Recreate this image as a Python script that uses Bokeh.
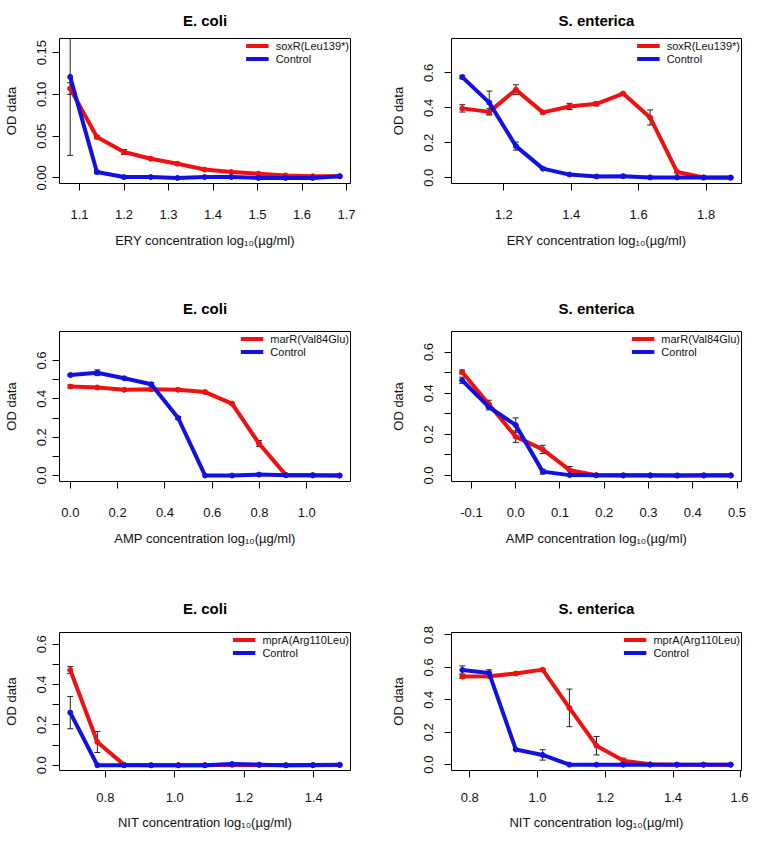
from bokeh.plotting import figure
from bokeh.layouts import column, row
from bokeh.models import FixedTicker, PrintfTickFormatter, Range1d
from bokeh.embed import file_html
from bokeh.resources import INLINE

# ---------------- data ----------------
titles = ["E. coli", "S. enterica", "E. coli", "S. enterica", "E. coli", "S. enterica"]
drugs = ["ERY", "ERY", "AMP", "AMP", "NIT", "NIT"]
mutant_labels = ["soxR(Leu139*)", "soxR(Leu139*)", "marR(Val84Glu)", "marR(Val84Glu)",
                 "mprA(Arg110Leu)", "mprA(Arg110Leu)"]

x1 = [1.079, 1.139, 1.200, 1.260, 1.320, 1.381, 1.441, 1.502, 1.563, 1.624, 1.685]
mut1 = [0.107, 0.049, 0.031, 0.023, 0.017, 0.010, 0.007, 0.005, 0.003, 0.002, 0.002]
mut1_err = [0.007, 0.002, 0.003, 0.001, 0.001, 0.001, 0.001, 0.0, 0.0, 0.0, 0.0]
ctrl1 = [0.121, 0.007, 0.001, 0.001, 0.000, 0.001, 0.001, 0.000, 0.000, 0.000, 0.002]
ctrl1_err = [0.094, 0.002, 0.0, 0.0, 0.0, 0.0, 0.0, 0.0, 0.0, 0.0, 0.0]

x2 = [1.077, 1.157, 1.236, 1.316, 1.395, 1.475, 1.554, 1.634, 1.714, 1.793, 1.873]
mut2 = [0.397, 0.377, 0.504, 0.374, 0.408, 0.423, 0.482, 0.345, 0.033, 0.002, 0.000]
mut2_err = [0.021, 0.018, 0.028, 0.008, 0.018, 0.012, 0.006, 0.043, 0.0, 0.0, 0.0]
ctrl2 = [0.576, 0.430, 0.181, 0.052, 0.018, 0.007, 0.009, 0.002, 0.002, 0.001, 0.001]
ctrl2_err = [0.010, 0.066, 0.023, 0.005, 0.003, 0.0, 0.0, 0.0, 0.0, 0.0, 0.0]

x3 = [0.000, 0.114, 0.228, 0.342, 0.456, 0.570, 0.684, 0.798, 0.912, 1.025, 1.139]
mut3 = [0.464, 0.459, 0.447, 0.450, 0.447, 0.435, 0.375, 0.167, 0.002, 0.001, 0.000]
mut3_err = [0.008, 0.004, 0.004, 0.003, 0.003, 0.004, 0.006, 0.016, 0.0, 0.0, 0.0]
ctrl3 = [0.524, 0.536, 0.507, 0.476, 0.300, 0.000, 0.000, 0.005, 0.002, 0.002, 0.000]
ctrl3_err = [0.005, 0.015, 0.006, 0.008, 0.008, 0.0, 0.0, 0.0, 0.0, 0.0, 0.0]

x4 = [-0.121, -0.061, 0.000, 0.061, 0.122, 0.182, 0.243, 0.304, 0.365, 0.425, 0.486]
mut4 = [0.503, 0.348, 0.189, 0.127, 0.026, 0.001, 0.000, 0.000, 0.000, 0.000, 0.000]
mut4_err = [0.010, 0.018, 0.028, 0.020, 0.018, 0.0, 0.0, 0.0, 0.0, 0.0, 0.0]
ctrl4 = [0.463, 0.334, 0.245, 0.019, 0.002, 0.001, 0.001, 0.001, 0.000, 0.001, 0.001]
ctrl4_err = [0.015, 0.015, 0.035, 0.012, 0.0, 0.0, 0.0, 0.0, 0.0, 0.0, 0.0]

x5 = [0.699, 0.777, 0.854, 0.932, 1.010, 1.087, 1.165, 1.243, 1.320, 1.398, 1.475]
mut5 = [0.472, 0.115, 0.002, 0.000, 0.000, 0.000, 0.002, 0.001, 0.000, 0.000, 0.001]
mut5_err = [0.017, 0.052, 0.0, 0.0, 0.0, 0.0, 0.0, 0.0, 0.0, 0.0, 0.0]
ctrl5 = [0.261, 0.000, 0.000, 0.000, 0.000, 0.000, 0.006, 0.003, 0.000, 0.001, 0.002]
ctrl5_err = [0.080, 0.0, 0.0, 0.0, 0.0, 0.0, 0.0, 0.0, 0.0, 0.0, 0.0]

x6 = [0.778, 0.857, 0.936, 1.015, 1.094, 1.174, 1.253, 1.332, 1.411, 1.490, 1.570]
mut6 = [0.543, 0.545, 0.562, 0.586, 0.350, 0.117, 0.025, 0.002, 0.000, 0.000, 0.000]
mut6_err = [0.012, 0.006, 0.005, 0.005, 0.116, 0.057, 0.015, 0.0, 0.0, 0.0, 0.0]
ctrl6 = [0.584, 0.565, 0.093, 0.060, 0.000, 0.000, 0.000, 0.000, 0.000, 0.000, 0.000]
ctrl6_err = [0.025, 0.020, 0.005, 0.032, 0.0, 0.0, 0.0, 0.0, 0.0, 0.0, 0.0]

# axis ticks (labelled / unlabelled)
xticks1 = [1.1, 1.2, 1.3, 1.4, 1.5, 1.6, 1.7]
yticks1 = [0.0, 0.05, 0.10, 0.15]
xticks2 = [1.2, 1.4, 1.6, 1.8]
yticks2 = [0.0, 0.2, 0.4, 0.6]
xticks3 = [0.0, 0.2, 0.4, 0.6, 0.8, 1.0]
yticks3 = [0.0, 0.2, 0.4, 0.6]
yminor3 = [0.1, 0.3, 0.5]
xticks4 = [-0.1, 0.0, 0.1, 0.2, 0.3, 0.4, 0.5]
yticks4 = [0.0, 0.2, 0.4, 0.6]
yminor4 = [0.1, 0.3, 0.5]
xticks5 = [0.8, 1.0, 1.2, 1.4]
yticks5 = [0.0, 0.2, 0.4, 0.6]
yminor5 = [0.1, 0.3, 0.5]
xticks6 = [0.8, 1.0, 1.2, 1.4, 1.6]
yticks6 = [0.0, 0.2, 0.4, 0.6, 0.8]

# ---------------- style ----------------
FONT = "Liberation Sans"
RED = "#EE1111"
BLUE = "#1111E0"

panels = [
    dict(x=x1, mut=mut1, mut_err=mut1_err, ctrl=ctrl1, ctrl_err=ctrl1_err,
         xr=(1.055, 1.709), yr=(-0.0067, 0.167), xt=xticks1, yt=yticks1, ym=[], yf="%.2f", xf="%.1f"),
    dict(x=x2, mut=mut2, mut_err=mut2_err, ctrl=ctrl2, ctrl_err=ctrl2_err,
         xr=(1.045, 1.905), yr=(-0.033, 0.797), xt=xticks2, yt=yticks2, ym=[], yf="%.1f", xf="%.1f"),
    dict(x=x3, mut=mut3, mut_err=mut3_err, ctrl=ctrl3, ctrl_err=ctrl3_err,
         xr=(-0.046, 1.185), yr=(-0.031, 0.751), xt=xticks3, yt=yticks3, ym=yminor3, yf="%.1f", xf="%.1f"),
    dict(x=x4, mut=mut4, mut_err=mut4_err, ctrl=ctrl4, ctrl_err=ctrl4_err,
         xr=(-0.145, 0.510), yr=(-0.029, 0.700), xt=xticks4, yt=yticks4, ym=yminor4, yf="%.1f", xf="%.1f"),
    dict(x=x5, mut=mut5, mut_err=mut5_err, ctrl=ctrl5, ctrl_err=ctrl5_err,
         xr=(0.668, 1.506), yr=(-0.026, 0.658), xt=xticks5, yt=yticks5, ym=yminor5, yf="%.1f", xf="%.1f"),
    dict(x=x6, mut=mut6, mut_err=mut6_err, ctrl=ctrl6, ctrl_err=ctrl6_err,
         xr=(0.746, 1.602), yr=(-0.036, 0.815), xt=xticks6, yt=yticks6, ym=[], yf="%.1f", xf="%.1f"),
]

col_geom = [dict(width=372, left=55, right=22, ystand=6),
            dict(width=376, left=79, right=7, ystand=11)]
row_geom = [dict(height=282, top=33, bottom=99, tstand=19, xstand=19, lstand=11),
            dict(height=300, top=47, bottom=101, tstand=30, xstand=19, lstand=11),
            dict(height=250, top=44, bottom=56, tstand=31, xstand=15, lstand=10)]


def errbars(p, xs, ys, errs):
    ex = [xv for xv, e in zip(xs, errs) if e > 0]
    lo = [yv - e for yv, e in zip(ys, errs) if e > 0]
    hi = [yv + e for yv, e in zip(ys, errs) if e > 0]
    p.segment(x0=ex, y0=lo, x1=ex, y1=hi, line_color="#222222", line_width=1)
    p.scatter(ex, lo, marker="dash", size=6, line_color="#222222", line_width=1)
    p.scatter(ex, hi, marker="dash", size=6, line_color="#222222", line_width=1)


figs = []
for i, d in enumerate(panels):
    cg = col_geom[i % 2]
    rg = row_geom[i // 2]
    p = figure(width=cg["width"], height=rg["height"], output_backend="svg", toolbar_location=None,
               x_range=Range1d(*d["xr"]), y_range=Range1d(*d["yr"]),
               min_border_left=cg["left"], min_border_right=cg["right"],
               min_border_top=rg["top"], min_border_bottom=rg["bottom"],
               background_fill_color="white", border_fill_color="white")
    p.grid.visible = False
    p.outline_line_color = "black"
    p.outline_line_width = 1
    p.outline_line_alpha = 1

    p.title.text = titles[i]
    p.title.align = "center"
    p.title.text_font = FONT
    p.title.text_font_size = "15px"
    p.title.text_font_style = "bold"
    p.title.text_color = "black"
    p.title.standoff = rg["tstand"]

    errbars(p, d["x"], d["mut"], d["mut_err"])
    errbars(p, d["x"], d["ctrl"], d["ctrl_err"])

    p.line(d["x"], d["mut"], line_color=RED, line_width=4, legend_label=mutant_labels[i])
    p.scatter(d["x"], d["mut"], marker="circle", size=5, fill_color=RED, line_color=RED)
    p.line(d["x"], d["ctrl"], line_color=BLUE, line_width=4, legend_label="Control")
    p.scatter(d["x"], d["ctrl"], marker="circle", size=5, fill_color=BLUE, line_color=BLUE)

    # axes
    p.xaxis.ticker = FixedTicker(ticks=d["xt"])
    p.yaxis.ticker = FixedTicker(ticks=d["yt"], minor_ticks=d["ym"])
    p.xaxis.formatter = PrintfTickFormatter(format=d["xf"])
    p.yaxis.formatter = PrintfTickFormatter(format=d["yf"])
    for ax in (p.xaxis[0], p.yaxis[0]):
        ax.axis_line_color = None
        ax.major_tick_out = 7
        ax.major_tick_in = 0
        ax.minor_tick_out = 7
        ax.minor_tick_in = 0
        ax.major_tick_line_color = "black"
        ax.minor_tick_line_color = "black"
        ax.major_label_text_font = FONT
        ax.major_label_text_font_size = "13px"
        ax.major_label_text_color = "#111111"
        ax.axis_label_text_font = FONT
        ax.axis_label_text_font_size = "13px"
        ax.axis_label_text_font_style = "normal"
        ax.axis_label_text_color = "#111111"
    p.xaxis.axis_label = drugs[i] + " concentration log\u2081\u2080(\u00b5g/ml)"
    p.yaxis.axis_label = "OD data"
    p.xaxis.major_label_standoff = rg["xstand"]
    p.xaxis.axis_label_standoff = rg["lstand"]
    p.yaxis.major_label_orientation = "vertical"
    p.yaxis.major_label_standoff = cg["ystand"]
    p.yaxis.axis_label_standoff = 16

    lg = p.legend[0]
    lg.location = "top_right"
    lg.border_line_color = None
    lg.background_fill_alpha = 0
    lg.label_text_font = FONT
    lg.label_text_font_size = "11px"
    lg.label_text_color = "#111111"
    lg.glyph_width = 23
    lg.glyph_height = 13
    lg.label_height = 13
    lg.spacing = 0
    lg.padding = 5
    lg.margin = 1
    lg.label_standoff = 7
    figs.append(p)

layout = column(row(figs[0], figs[1]), row(figs[2], figs[3]), row(figs[4], figs[5]))
open("out.html", "w").write(file_html(layout, INLINE))
